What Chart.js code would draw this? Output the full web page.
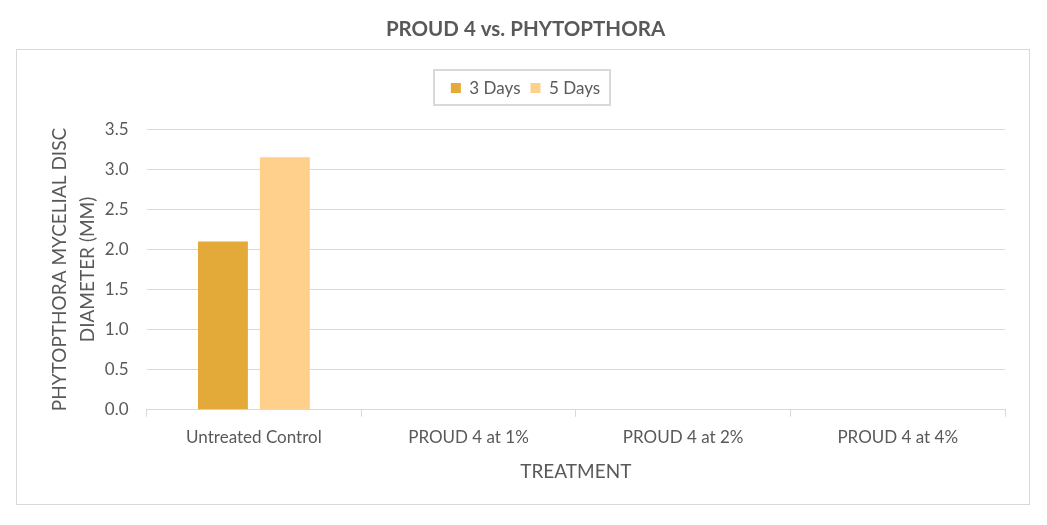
<!DOCTYPE html>
<html>
<head>
<meta charset="utf-8">
<script src="https://cdn.jsdelivr.net/npm/chart.js@4/dist/chart.umd.min.js"></script>
<style>
  html, body { margin: 0; padding: 0; background: #fff; }
</style>
</head>
<body>
<canvas id="phytoChart" width="1047" height="525"></canvas>
<script>
const categories = ['Untreated Control', 'PROUD 4 at 1%', 'PROUD 4 at 2%', 'PROUD 4 at 4%'];
const days3 = [2.1, 0, 0, 0];
const days5 = [3.15, 0, 0, 0];

const textGrey = '#595959';
const lineGrey = '#d9d9d9';

// frame round the whole chart and round the legend
const framePlugin = {
    id: 'frames',
    afterDraw(chart) {
        const ctx = chart.ctx;
        ctx.save();
        ctx.strokeStyle = lineGrey;
        ctx.lineWidth = 1;
        ctx.strokeRect(16.5, 49.5, chart.width - 34, chart.height - 70);

        const boxes = chart.legend.legendHitBoxes;
        if (boxes && boxes.length) {
            const left = Math.min(...boxes.map(b => b.left));
            const right = Math.max(...boxes.map(b => b.left + b.width));
            const top = Math.min(...boxes.map(b => b.top));
            const bottom = Math.max(...boxes.map(b => b.top + b.height));
            ctx.lineWidth = 2;
            ctx.strokeRect(Math.round(left) - 17, Math.round(top) - 10, Math.round(right - left) + 27, Math.round(bottom - top) + 18);
        }
        ctx.restore();
    }
};

new Chart(document.getElementById('phytoChart').getContext('2d'), {
    type: 'bar',
    data: {
        labels: categories,
        datasets: [
            { label: '3 Days', data: days3, backgroundColor: '#e3aa3a', categoryPercentage: 0.577, barPercentage: 0.806 },
            { label: '5 Days', data: days5, backgroundColor: '#fed08b', categoryPercentage: 0.577, barPercentage: 0.806 }
        ]
    },
    options: {
        responsive: false,
        animation: false,
        layout: { padding: { left: 46, right: 42, top: 0, bottom: 38 } },
        plugins: {
            title: {
                display: true,
                text: 'PROUD 4 vs. PHYTOPTHORA',
                color: textGrey,
                font: { family: 'Lato', size: 20.5, weight: 'bold' },
                padding: { top: 17, bottom: 28 }
            },
            subtitle: {
                display: true,
                text: '',
                weight: 500,
                font: { size: 18 },
                padding: { top: 0, bottom: 1 }
            },
            legend: {
                position: 'top',
                labels: {
                    color: textGrey,
                    boxWidth: 10,
                    boxHeight: 10,
                    padding: 10,
                    font: { family: 'Lato', size: 17 }
                }
            },
            tooltip: { enabled: false }
        },
        scales: {
            x: {
                grid: { display: true, drawOnChartArea: false, drawTicks: true, tickLength: 7, color: lineGrey, offset: true },
                border: { display: true, color: lineGrey },
                ticks: { color: textGrey, font: { family: 'Lato', size: 17 }, padding: 11, maxRotation: 0 },
                title: {
                    display: true,
                    text: 'TREATMENT',
                    color: textGrey,
                    font: { family: 'Lato', size: 19 },
                    padding: { top: 1 }
                }
            },
            y: {
                min: 0,
                max: 3.5,
                afterFit: scale => { scale.width -= 17; },
                grid: { color: lineGrey, drawTicks: false },
                border: { display: false },
                ticks: {
                    stepSize: 0.5,
                    color: textGrey,
                    padding: 18,
                    font: { family: 'Lato', size: 17 },
                    callback: v => v.toFixed(1)
                },
                title: {
                    display: true,
                    text: ['PHYTOPTHORA MYCELIAL DISC', 'DIAMETER (MM)'],
                    color: textGrey,
                    font: { family: 'Lato', size: 19, lineHeight: 1.47 },
                    padding: { top: 0, bottom: 2 }
                }
            }
        }
    },
    plugins: [framePlugin]
});
</script>
</body>
</html>
